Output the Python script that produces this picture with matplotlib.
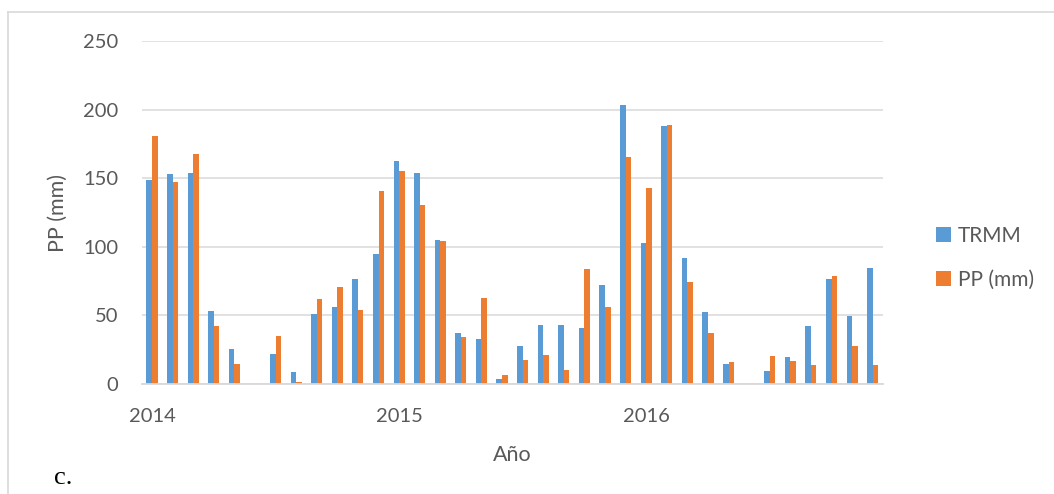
import matplotlib
matplotlib.use("Agg")
import matplotlib.pyplot as plt
from matplotlib.patches import Patch
from matplotlib.lines import Line2D
import numpy as np

# Monthly precipitation, Jan 2014 - Dec 2016
trmm = [149, 153, 154, 53, 25.5, 0, 22, 9, 51, 56, 76.5, 95,
        162.5, 154, 105, 37, 33, 3.6, 28, 43, 43, 41, 72.5, 203.5,
        103, 188, 91.5, 52.5, 14.6, 0, 9.5, 19.7, 42, 76.5, 49.5, 84.5]
pp_mm = [181, 147, 168, 42, 14.3, 0, 34.7, 1.7, 62, 70.6, 54, 140.8,
         155, 130.8, 104, 34, 63, 6.8, 17.7, 20.9, 10.4, 84, 56, 165.3,
         142.8, 188.6, 74, 37.2, 16, 0, 20.2, 16.7, 13.8, 78.8, 28, 13.8]
year_ticks = [0, 12, 24]
year_labels = ["2014", "2015", "2016"]
series_names = ["TRMM", "PP (mm)"]

BLUE = "#5B9BD5"
ORANGE = "#ED7D31"
GRID = "#D9D9D9"
TXT = "#595959"
FONT = ["Lato", "DejaVu Sans"]

W, H = 1054, 494
fig = plt.figure(figsize=(W / 100, H / 100), dpi=100)
fig.patch.set_facecolor("white")

left, right, bottom, top = 141.7, 883.0, 384.0, 41.0
ax = fig.add_axes([left / W, 1 - bottom / H, (right - left) / W, (bottom - top) / H])

x = np.arange(len(trmm))
bw = 0.27
ax.bar(x - bw / 2, trmm, width=bw, color=BLUE, zorder=3, linewidth=0)
ax.bar(x + bw / 2, pp_mm, width=bw, color=ORANGE, zorder=3, linewidth=0)

ax.set_xlim(-0.5, len(trmm) - 0.5)
ax.set_ylim(0, 250)
ax.set_yticks(np.arange(0, 251, 50))
ax.set_xticks(year_ticks)
ax.set_xticklabels(year_labels)
ax.yaxis.grid(True, color=GRID, linewidth=1.1, zorder=0)
ax.set_axisbelow(True)
for s in ["top", "right", "left"]:
    ax.spines[s].set_visible(False)
ax.spines["bottom"].set_color(GRID)
ax.spines["bottom"].set_linewidth(1.3)
ax.spines["bottom"].set_zorder(4)
ax.tick_params(axis="both", length=0, labelsize=14.5, labelcolor=TXT)
ax.tick_params(axis="y", pad=17)
ax.tick_params(axis="x", pad=17)
for lab in ax.get_xticklabels() + ax.get_yticklabels():
    lab.set_family(FONT)

fig.text(512 / W, 1 - 455 / H, "Año", ha="center", va="center",
         fontsize=15.5, color=TXT, family=FONT)
fig.text(58 / W, 1 - 213 / H, "PP (mm)", ha="center", va="center",
         rotation=90, fontsize=15.5, color=TXT, family=FONT)

handles = [Patch(facecolor=BLUE, edgecolor="none"),
           Patch(facecolor=ORANGE, edgecolor="none")]
leg = fig.legend(handles, series_names, loc="center left",
                 bbox_to_anchor=(936 / W, 1 - 258 / H), frameon=False,
                 prop={"family": FONT, "size": 15}, handlelength=0.7,
                 handleheight=0.7, handletextpad=0.35, labelspacing=1.15,
                 borderpad=0, borderaxespad=0)
for t in leg.get_texts():
    t.set_color(TXT)

# panel label and surrounding frame
fig.text(54 / W, 1 - 478 / H, "c.", ha="left", va="center",
         fontsize=19, color="black", family=["Liberation Serif", "DejaVu Serif"])
fig.add_artist(Line2D([8 / W, 8 / W], [0, 1 - 12 / H], transform=fig.transFigure,
                      color="#D9D9D9", linewidth=1.2))
fig.add_artist(Line2D([8 / W, 1], [1 - 12 / H, 1 - 12 / H], transform=fig.transFigure,
                      color="#D9D9D9", linewidth=1.2))

fig.savefig("out.png", dpi=100)
